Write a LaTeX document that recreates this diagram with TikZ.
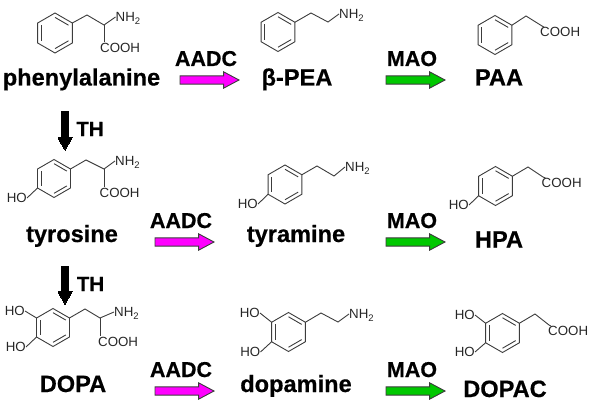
\documentclass[tikz,border=0pt]{standalone}
\usepackage{fontspec}
\setmainfont{Liberation Sans}
\newfontface\heavy{Liberation Sans Bold}[FakeBold=0.5]
\usetikzlibrary{calc,shapes.arrows}
\definecolor{bondc}{HTML}{3C3C3C}
\definecolor{aadcc}{HTML}{FF00FF}
\definecolor{maoc}{HTML}{00C800}
\newcommand{\nhtwo}{NH\raisebox{-2.5pt}{\fontsize{9.5}{10}\selectfont 2}}
\newcommand{\benzene}[4]{%
  \pgfmathsetmacro\rxx{0.866*#4}\pgfmathsetmacro\ryy{0.5*#4}
  \coordinate (#1c) at (#2,#3);
  \coordinate (#1t) at (#2,#3-#4);
  \coordinate (#1b) at (#2,#3+#4);
  \coordinate (#1ur) at (#2+\rxx,#3-\ryy);
  \coordinate (#1lr) at (#2+\rxx,#3+\ryy);
  \coordinate (#1ul) at (#2-\rxx,#3-\ryy);
  \coordinate (#1ll) at (#2-\rxx,#3+\ryy);
  \draw[bond] (#1t) -- (#1ur) -- (#1lr) -- (#1b) -- (#1ll) -- (#1ul) -- cycle;
  \draw[bond] ($(#1c)!0.78!(#1ul)$) -- ($(#1c)!0.78!(#1ll)$);
  \draw[bond] ($(#1c)!0.78!(#1t)$) -- ($(#1c)!0.78!(#1ur)$);
  \draw[bond] ($(#1c)!0.78!(#1lr)$) -- ($(#1c)!0.78!(#1b)$);
}
\tikzset{
  bond/.style={draw=bondc,line width=0.9pt,line join=miter},
  atom/.style={font=\fontsize{13.3}{14}\selectfont,text=black!85,inner sep=0pt,text height=9.5pt,text depth=0pt},
  molname/.style={font=\fontsize{23.6}{24}\heavy,inner sep=0pt,anchor=base},
  enzyme/.style={font=\fontsize{21.5}{22}\heavy,inner sep=0pt,anchor=base},
  blockarrow/.style={single arrow,draw=bondc,line width=0.9pt,minimum height=59pt,anchor=tip,
    single arrow head extend=4pt,single arrow tip angle=56,inner sep=3.7pt,outer sep=0pt},
  thickarrow/.style={single arrow,fill=black,draw=black,line width=0pt,inner sep=3.5pt,outer sep=0pt,shape border rotate=270,anchor=tip,
    single arrow head extend=3.5pt,single arrow tip angle=60},
}
\begin{document}
\begin{tikzpicture}[x=1pt,y=-1pt]
\useasboundingbox (0,0) rectangle (591,401);
% phenylalanine
\benzene{a}{55}{33}{20}
\coordinate (a1) at (87,15); \coordinate (a2) at (104,25);
\node[atom,anchor=west] (anh) at (115.5,17) {\nhtwo};
\node[atom,anchor=west] (aco) at (100,48) {COOH};
\draw[bond] (aur) -- (a1) -- (a2) -- (anh.west);
\draw[bond] (a2) -- ($(aco.north west)+(4,-1)$);
% beta-PEA
\benzene{b}{278}{32}{19.5}
\coordinate (b1) at (311,13); \coordinate (b2) at (328,22);
\node[atom,anchor=west] (bnh) at (339,14) {\nhtwo};
\draw[bond] (bur) -- (b1) -- (b2) -- (bnh.west);
% PAA
\benzene{c}{495}{35}{19.5}
\coordinate (c1) at (526,16); \coordinate (c2) at (542,26);
\node[atom,anchor=west] (cco) at (540,32) {COOH};
\draw[bond] (cur) -- (c1) -- (c2) -- ($(cco.north west)+(4,0)$);
% tyrosine
\benzene{d}{54}{178.5}{19}
\coordinate (d1) at (86,160); \coordinate (d2) at (104,169);
\node[atom,anchor=west] (dnh) at (115,161) {\nhtwo};
\node[atom,anchor=west] (dco) at (99.5,193) {COOH};
\node[atom,anchor=east] (dho) at (27,198) {HO};
\draw[bond] (dur) -- (d1) -- (d2) -- (dnh.west);
\draw[bond] (d2) -- ($(dco.north west)+(4.5,-1)$);
\draw[bond] (dll) -- (dho.east);
% tyramine
\benzene{e}{285}{184.5}{19.5}
\coordinate (e1) at (317,166); \coordinate (e2) at (334,176);
\node[atom,anchor=west] (enh) at (345,167) {\nhtwo};
\node[atom,anchor=east] (eho) at (258,204) {HO};
\draw[bond] (eur) -- (e1) -- (e2) -- (enh.west);
\draw[bond] (ell) -- (eho.east);
% HPA
\benzene{f}{495.5}{186}{19.5}
\coordinate (f1) at (528,167); \coordinate (f2) at (543,177);
\node[atom,anchor=west] (fco) at (541.5,183) {COOH};
\node[atom,anchor=east] (fho) at (469,205) {HO};
\draw[bond] (fur) -- (f1) -- (f2) -- ($(fco.north west)+(4,0)$);
\draw[bond] (fll) -- (fho.east);
% DOPA
\benzene{g}{53}{327.5}{19}
\coordinate (g1) at (85,309); \coordinate (g2) at (100,318);
\node[atom,anchor=west] (gnh) at (114,312) {\nhtwo};
\node[atom,anchor=west] (gco) at (98,342) {COOH};
\node[atom,anchor=east] (gh1) at (25,311) {HO};
\node[atom,anchor=east] (gh2) at (26,347) {HO};
\draw[bond] (gur) -- (g1) -- (g2) -- (gnh.west);
\draw[bond] (g2) -- ($(gco.north west)+(2,-1)$);
\draw[bond] (gul) -- (gh1.east);
\draw[bond] (gll) -- (gh2.east);
% dopamine
\benzene{h}{288.5}{332}{19.5}
\coordinate (h1) at (321,313); \coordinate (h2) at (338,322);
\node[atom,anchor=west] (hnh) at (349,314) {\nhtwo};
\node[atom,anchor=east] (hh1) at (260,313) {HO};
\node[atom,anchor=east] (hh2) at (260.5,352) {HO};
\draw[bond] (hur) -- (h1) -- (h2) -- (hnh.west);
\draw[bond] (hul) -- (hh1.east);
\draw[bond] (hll) -- (hh2.east);
% DOPAC
\benzene{i}{502.5}{333}{19.5}
\coordinate (i1) at (535,314); \coordinate (i2) at (549,325);
\node[atom,anchor=west] (ico) at (548,331) {COOH};
\node[atom,anchor=east] (ih1) at (475,315) {HO};
\node[atom,anchor=east] (ih2) at (475,352) {HO};
\draw[bond] (iur) -- (i1) -- (i2) -- ($(ico.north west)+(3,0)$);
\draw[bond] (iul) -- (ih1.east);
\draw[bond] (ill) -- (ih2.east);
% names
\node[molname] (n1) at (81.5,85.5) {phenylalanine};
\node[molname] (n2) at (297,85.5) {β-PEA};
\node[molname] (n3) at (499,85.5) {PAA};
\node[molname] (n4) at (72,242) {tyrosine};
\node[molname] (n5) at (296,242) {tyramine};
\node[molname] (n6) at (499,247.5) {HPA};
\node[molname] (n7) at (73,392) {DOPA};
\node[molname] (n8) at (296,392) {dopamine};
\node[molname] (n9) at (505,397) {DOPAC};
% enzymes
\node[enzyme] (e1t) at (206,66) {AADC};
\node[enzyme] (e2t) at (181,228) {AADC};
\node[enzyme] (e3t) at (181,377) {AADC};
\node[enzyme] (m1t) at (412,66) {MAO};
\node[enzyme] (m2t) at (412,228) {MAO};
\node[enzyme] (m3t) at (412,377) {MAO};
\node[enzyme,font=\fontsize{20.5}{21}\heavy] (t1t) at (90,136) {TH};
\node[enzyme,font=\fontsize{20.5}{21}\heavy] (t2t) at (90.5,291) {TH};
% block arrows
\node[blockarrow,fill=aadcc] (ar1) at (239,80) {};
\node[blockarrow,fill=aadcc] (ar2) at (214,242) {};
\node[blockarrow,fill=aadcc] (ar3) at (214,391) {};
\node[blockarrow,fill=maoc] (ar4) at (445,80) {};
\node[blockarrow,fill=maoc] (ar5) at (445,242) {};
\node[blockarrow,fill=maoc] (ar6) at (445,391) {};
\node[thickarrow,minimum height=38pt] (ar7) at (65,150) {};
\node[thickarrow,minimum height=38pt] (ar8) at (65,304) {};
\end{tikzpicture}
\end{document}
